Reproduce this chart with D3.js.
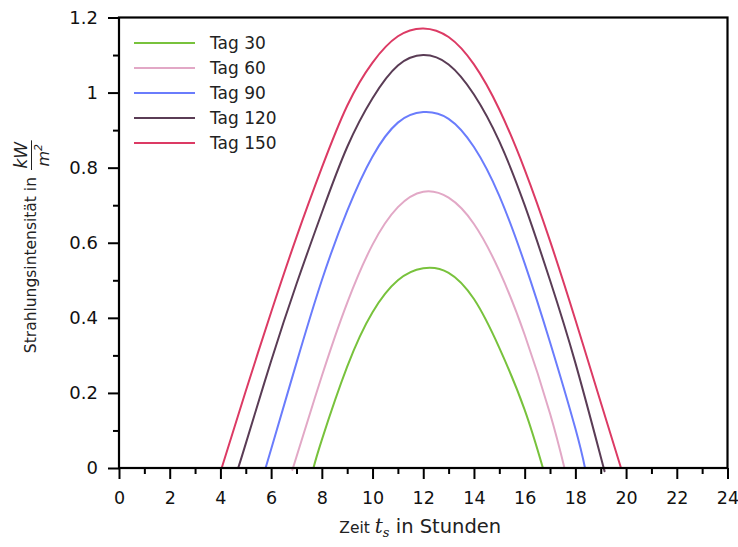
<!DOCTYPE html>
<html>
<head>
<meta charset="utf-8">
<script src="https://cdn.jsdelivr.net/npm/d3@7"></script>
<style>
body{margin:0;background:#fff;}
text{font-family:"DejaVu Sans",sans-serif;}
</style>
</head>
<body>
<svg id="chart" width="738" height="547"></svg>
<script>
// values (hours, kW/m^2); zero outside the listed range
var seriesNames=["Tag 30","Tag 60","Tag 90","Tag 120","Tag 150"];
var seriesColors=["#78c23c","#e2a8c6","#6a7cfc","#5a3c55","#dc3a64"];
var tag30=[[7.67,0],[8,0.075],[9,0.27],[10,0.415],[11,0.50],[12,0.532],[13,0.52],[14,0.45],[15,0.32],[16,0.155],[16.72,0]];
var tag60=[[6.86,0],[7,0.03],[8,0.245],[9,0.44],[10,0.595],[11,0.695],[12,0.736],[13,0.72],[14,0.65],[15,0.525],[16,0.355],[17,0.145],[17.57,0]];
var tag90=[[5.78,0],[6,0.05],[7,0.28],[8,0.50],[9,0.685],[10,0.83],[11,0.92],[12,0.948],[13,0.93],[14,0.855],[15,0.725],[16,0.545],[17,0.335],[18,0.105],[18.38,0]];
var tag120=[[4.7,0],[5,0.065],[6,0.285],[7,0.49],[8,0.68],[9,0.855],[10,0.985],[11,1.072],[12,1.10],[13,1.075],[14,0.995],[15,0.87],[16,0.70],[17,0.50],[18,0.28],[19,0.03],[19.12,0]];
var tag150=[[4.05,0],[5,0.205],[6,0.415],[7,0.615],[8,0.80],[9,0.965],[10,1.08],[11,1.15],[12,1.171],[13,1.148],[14,1.075],[15,0.955],[16,0.795],[17,0.605],[18,0.395],[19,0.175],[19.8,0]];
var allSeries=[tag30,tag60,tag90,tag120,tag150];
var xTicks=[0,2,4,6,8,10,12,14,16,18,20,22,24];
var yTicks=[0,0.2,0.4,0.6,0.8,1,1.2];

var svg=d3.select("#chart");
var pLeft=119,pRight=727.5,pTop=17.5,pBottom=468;
var x=d3.scaleLinear().domain([0,24]).range([pLeft,pRight]);
var y=d3.scaleLinear().domain([0,1.2]).range([pBottom,pTop]);

//curves
var line=d3.line().x(function(d){return x(d[0]);}).y(function(d){return y(d[1]);}).curve(d3.curveNatural);
var flat=d3.line().x(function(d){return x(d[0]);}).y(function(d){return y(d[1]);});
allSeries.forEach(function(s,i){
  svg.append("path").attr("d",flat([[0,0],s[0]])).attr("fill","none").attr("stroke",seriesColors[i]).attr("stroke-width",2);
  svg.append("path").attr("d",flat([s[s.length-1],[24,0]])).attr("fill","none").attr("stroke",seriesColors[i]).attr("stroke-width",2);
  svg.append("path").attr("class","curve").attr("d",line(s)).attr("fill","none")
    .attr("stroke",seriesColors[i]).attr("stroke-width",2);
});

//box
svg.append("rect").attr("x",pLeft).attr("y",pTop).attr("width",pRight-pLeft).attr("height",pBottom-pTop)
  .attr("fill","none").attr("stroke","#000").attr("stroke-width",2.2);

//x axis
var xAxis=d3.axisBottom(x).tickValues(xTicks).tickSize(11).tickPadding(13).tickFormat(d3.format("d"));
var gx=svg.append("g").attr("transform","translate(0,"+pBottom+")").call(xAxis);
gx.select(".domain").remove();
gx.selectAll("line").attr("stroke","#000").attr("stroke-width",2);
gx.selectAll("text").attr("font-size",17.5).attr("fill","#111").attr("font-family","DejaVu Sans");
var gxm=svg.append("g").attr("transform","translate(0,"+pBottom+")")
  .call(d3.axisBottom(x).tickValues(d3.range(1,24,2)).tickSize(6).tickFormat(""));
gxm.select(".domain").remove();
gxm.selectAll("line").attr("stroke","#000").attr("stroke-width",2);

//y axis
var yAxis=d3.axisLeft(y).tickValues(yTicks).tickSize(11).tickPadding(10).tickFormat(function(d){return String(+d.toFixed(1));});
var gy=svg.append("g").attr("transform","translate("+pLeft+",0)").call(yAxis);
gy.select(".domain").remove();
gy.selectAll("line").attr("stroke","#000").attr("stroke-width",2);
gy.selectAll("text").attr("font-size",18).attr("fill","#111").attr("font-family","DejaVu Sans");
var gym=svg.append("g").attr("transform","translate("+pLeft+",0)")
  .call(d3.axisLeft(y).tickValues([0.1,0.3,0.5,0.7,0.9,1.1]).tickSize(6).tickFormat(""));
gym.select(".domain").remove();
gym.selectAll("line").attr("stroke","#000").attr("stroke-width",2);

//legend
var legend=svg.append("g");
seriesNames.forEach(function(n,i){
  var ly=43+i*25;
  legend.append("line").attr("x1",134).attr("x2",195).attr("y1",ly).attr("y2",ly)
    .attr("stroke",seriesColors[i]).attr("stroke-width",2);
  legend.append("text").attr("x",210).attr("y",ly+6).attr("font-size",17).attr("fill","#222").text(n);
});

//x label
var xl=svg.append("text").attr("y",533).attr("fill","#222").attr("font-size",19.5);
xl.append("tspan").attr("font-size",15.5).text("Zeit ");
xl.append("tspan").attr("font-family","DejaVu Serif").attr("font-style","italic").attr("font-size",20).text("t");
xl.append("tspan").attr("font-family","DejaVu Serif").attr("font-style","italic").attr("font-size",13).attr("dy",4).text("s");
xl.append("tspan").attr("dy",-4).text(" in Stunden");
var xlw=xl.node().getComputedTextLength();
xl.attr("x",(pLeft+pRight)/2-xlw/2-3);

//y label with fraction
var yl=svg.append("g");
var ylt=yl.append("text").attr("x",0).attr("y",0).attr("font-size",15.5).attr("fill","#222").text("Strahlungsintensität in");
var tw=ylt.node().getComputedTextLength();
var num=yl.append("text").attr("y",-9).attr("font-family","DejaVu Serif").attr("font-style","italic").attr("font-size",17).attr("fill","#222").attr("text-anchor","middle").text("kW");
var den=yl.append("text").attr("y",13).attr("font-family","DejaVu Serif").attr("font-style","italic").attr("font-size",16).attr("fill","#222").attr("text-anchor","middle");
den.append("tspan").text("m");
den.append("tspan").attr("font-size",11).attr("dy",-7).text("2");
var fw=Math.max(num.node().getComputedTextLength(),den.node().getComputedTextLength())+3;
var fx=tw+7+fw/2;
num.attr("x",fx);den.attr("x",fx);
yl.append("line").attr("x1",tw+7).attr("x2",tw+7+fw).attr("y1",-4.5).attr("y2",-4.5).attr("stroke","#222").attr("stroke-width",1);
var total=tw+7+fw;
yl.attr("transform","translate(36,"+((pTop+pBottom)/2+total/2+4)+") rotate(-90)");
</script>
</body>
</html>
